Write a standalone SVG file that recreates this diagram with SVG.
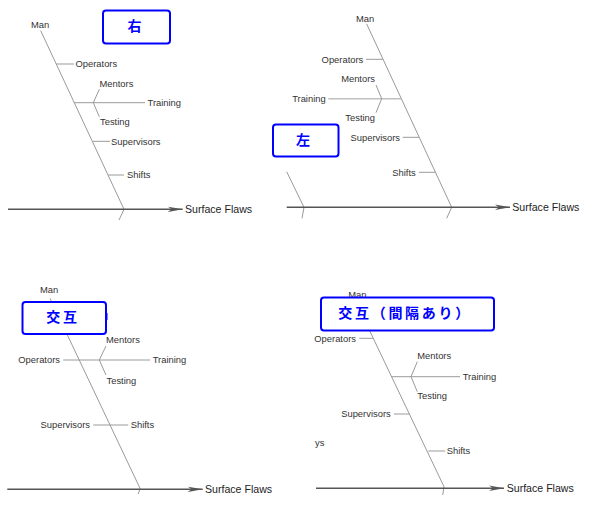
<svg xmlns="http://www.w3.org/2000/svg" width="596" height="528" viewBox="0 0 596 528">
<style>
.bone{fill:none;stroke:#9a9a9a;stroke-width:1}
.light{fill:none;stroke:#c0c0c0;stroke-width:1.6}
.axis{fill:none;stroke:#555;stroke-width:1.4}
.lbl{font-family:"Liberation Sans",Arial,sans-serif;font-size:9.4px;fill:#333}
.end{text-anchor:end}
.eff{font-family:"Liberation Sans",Arial,sans-serif;font-size:10.6px;fill:#222}
.box{fill:#fff;stroke:#0000ff;stroke-width:2}
.jp{font-family:"Noto Sans CJK JP",sans-serif;font-size:14px;font-weight:bold;fill:#0000ff;letter-spacing:2.7px}
</style>
<defs>
<marker id="arr" viewBox="0 0 15 7" refX="15" refY="3.5" markerWidth="15" markerHeight="7" markerUnits="userSpaceOnUse" orient="auto">
<path d="M0,0.8 L15,3.5 L0,6.2 L4,3.5 Z" fill="#555"/>
</marker>
</defs>
<rect width="596" height="528" fill="#fff"/>

<g id="connectors">
<!-- panel 1 -->
<path class="bone" d="M40.7,30.7 L124,209.3 L119,220"/>
<path class="bone" d="M56,64 H74"/>
<path class="bone" d="M74,102.7 H145"/>
<path class="bone" d="M93.3,102.7 L99.3,89.3 M93.3,102.7 L99.3,116.7"/>
<path class="bone" d="M92.7,141.3 H110"/>
<path class="bone" d="M108.3,175 H124"/>
<path class="axis" d="M8,209.3 H182.7" marker-end="url(#arr)"/>
<!-- panel 2 -->
<path class="bone" d="M366.7,24 L451.7,207.3 L446.7,218.3"/>
<path class="bone" d="M286.7,171.7 L304,207.3 L302,218.3"/>
<path class="bone" d="M366,59.3 H383"/>
<path class="light" d="M328.3,98.7 H401"/>
<path class="bone" d="M381.7,98.7 L376,85 M381.7,98.7 L376,112.7"/>
<path class="bone" d="M402.7,137.3 H419"/>
<path class="bone" d="M419,172.3 H435.5"/>
<path class="axis" d="M286.7,207.3 H510" marker-end="url(#arr)"/>
<!-- panel 3 -->
<path class="bone" d="M50,298.3 L140,488.3 L138.3,494"/>
<path class="bone" d="M63.3,360 H150"/>
<path class="bone" d="M99.3,360 L106,346 M99.3,360 L106,375"/>
<path class="bone" d="M93.3,425 H128.3"/>
<path class="axis" d="M7.3,489.3 H202.7" marker-end="url(#arr)"/>
<!-- panel 4 -->
<path class="bone" d="M355,300 L444,486.7 L442.7,495"/>
<path class="bone" d="M359.3,338.3 H373.3"/>
<path class="bone" d="M391.6,376.7 H460"/>
<path class="bone" d="M411,376.7 L417.3,361.7 M411,376.7 L417.3,391.7"/>
<path class="bone" d="M394,414 H409.5"/>
<path class="bone" d="M428.3,451 H445"/>
<path class="axis" d="M316,488.3 H504" marker-end="url(#arr)"/>
</g>

<!-- panel 1 nodes -->
<g id="p1-man"><text class="lbl" x="31" y="28.4">Man</text></g>
<g id="p1-operators"><text class="lbl" x="75.5" y="67.4">Operators</text></g>
<g id="p1-mentors"><text class="lbl" x="99.5" y="86.7">Mentors</text></g>
<g id="p1-training"><text class="lbl" x="147.5" y="106.1">Training</text></g>
<g id="p1-testing"><text class="lbl" x="100" y="125.4">Testing</text></g>
<g id="p1-supervisors"><text class="lbl" x="111" y="144.7">Supervisors</text></g>
<g id="p1-shifts"><text class="lbl" x="127" y="178.4">Shifts</text></g>
<g id="p1-effect"><text class="eff" x="185" y="213">Surface Flaws</text></g>
<g id="p1-note"><rect class="box" x="103" y="10.5" width="67" height="33" rx="3"/><text class="jp" x="127.5" y="30.6">右</text></g>

<!-- panel 2 nodes -->
<g id="p2-man"><text class="lbl" x="356" y="22.4">Man</text></g>
<g id="p2-operators"><text class="lbl end" x="363.3" y="62.7">Operators</text></g>
<g id="p2-mentors"><text class="lbl end" x="375" y="82.1">Mentors</text></g>
<g id="p2-training"><text class="lbl end" x="325.7" y="102.1">Training</text></g>
<g id="p2-testing"><text class="lbl end" x="375" y="121.4">Testing</text></g>
<g id="p2-supervisors"><text class="lbl end" x="400" y="140.7">Supervisors</text></g>
<g id="p2-shifts"><text class="lbl end" x="415.7" y="175.7">Shifts</text></g>
<g id="p2-effect"><text class="eff" x="512.3" y="211">Surface Flaws</text></g>
<g id="p2-note"><rect class="box" x="273" y="124.5" width="65.5" height="32" rx="3"/><text class="jp" x="296" y="144.6">左</text></g>

<!-- panel 3 nodes -->
<g id="p3-man"><text class="lbl" x="40" y="293.4">Man</text></g>
<g id="p3-operators"><text class="lbl end" x="60" y="363.4">Operators</text></g>
<g id="p3-training"><text class="lbl" x="152.7" y="363.4">Training</text></g>
<g id="p3-mentors"><text class="lbl" x="106" y="342.7">Mentors</text></g>
<g id="p3-testing"><text class="lbl" x="106.5" y="384.4">Testing</text></g>
<g id="p3-supervisors"><text class="lbl end" x="90" y="428.4">Supervisors</text></g>
<g id="p3-shifts"><text class="lbl" x="130.7" y="428.4">Shifts</text></g>
<g id="p3-effect"><text class="eff" x="205" y="493">Surface Flaws</text></g>
<g id="p3-note"><rect class="box" x="22.5" y="302" width="83.5" height="32" rx="3"/><path d="M107,313 V320" stroke="#0000ff" stroke-width="1"/><text class="jp" x="46.3" y="321.5">交互</text></g>

<!-- panel 4 nodes -->
<g id="p4-man"><text class="lbl" x="348.3" y="298.4">Man</text></g>
<g id="p4-operators"><text class="lbl end" x="356" y="341.7">Operators</text></g>
<g id="p4-mentors"><text class="lbl" x="417.3" y="359.4">Mentors</text></g>
<g id="p4-training"><text class="lbl" x="462.7" y="380.1">Training</text></g>
<g id="p4-testing"><text class="lbl" x="417.3" y="399.4">Testing</text></g>
<g id="p4-supervisors"><text class="lbl end" x="390.7" y="417.4">Supervisors</text></g>
<g id="p4-ys"><text class="lbl" x="315" y="445.7">ys</text></g>
<g id="p4-shifts"><text class="lbl" x="446.7" y="454.4">Shifts</text></g>
<g id="p4-effect"><text class="eff" x="506.7" y="492">Surface Flaws</text></g>
<g id="p4-note"><rect class="box" x="321" y="297.5" width="173" height="33" rx="3"/><text class="jp" x="338.3" y="317.8">交互（間隔あり）</text></g>
</svg>
